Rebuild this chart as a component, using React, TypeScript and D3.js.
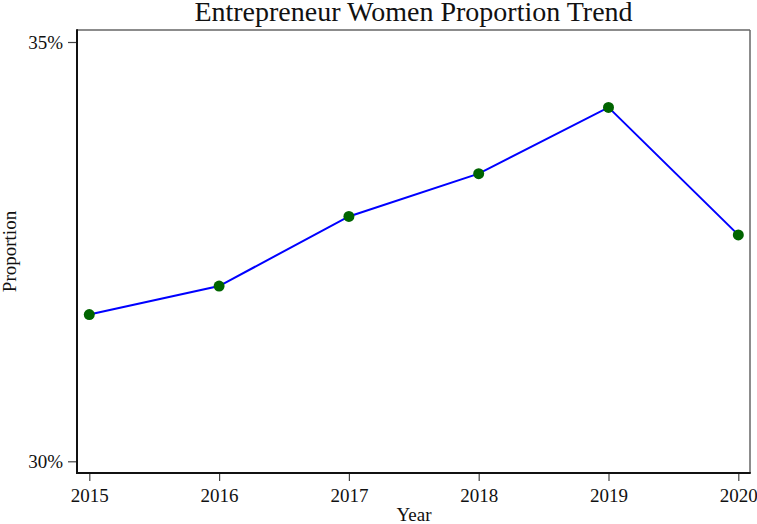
import React, { useRef, useEffect } from 'react';
import * as d3 from 'd3';

const years = [2015, 2016, 2017, 2018, 2019, 2020];
const proportion = [31.75, 32.09, 32.92, 33.43, 34.22, 32.70];
const yTicks = [30, 35];

const W = 757;
const H = 524;

const draw = (svgRef: React.RefObject<SVGSVGElement | null>) => {
  const svg = d3.select(svgRef.current);
  svg.selectAll('*').remove();

  const frame = { left: 77, right: 750, top: 30, bottom: 473 };
  const font = '"Liberation Serif", "Times New Roman", serif';

  const x = d3.scaleLinear().domain([2015, 2020]).range([89.3, 738.3]);
  const y = d3.scaleLinear().domain([30, 35]).range([461.3, 42]);

  // frame
  svg.append('line')
    .attr('x1', frame.left).attr('x2', frame.right)
    .attr('y1', frame.top).attr('y2', frame.top)
    .attr('stroke', '#666').attr('stroke-width', 1.5);
  svg.append('line')
    .attr('x1', frame.right).attr('x2', frame.right)
    .attr('y1', frame.top).attr('y2', frame.bottom)
    .attr('stroke', '#666').attr('stroke-width', 1.5);

  // x axis
  const xAxis = d3.axisBottom(x)
    .tickValues(years)
    .tickFormat(d3.format('d'))
    .tickSize(8)
    .tickPadding(8)
    .tickSizeOuter(0);
  const gx = svg.append('g')
    .attr('transform', `translate(0,${frame.bottom})`)
    .call(xAxis);
  gx.select('.domain').remove();
  gx.selectAll('.tick line').attr('stroke', '#444').attr('stroke-width', 1.2);
  gx.selectAll('.tick text').attr('font-family', font).attr('font-size', 19).attr('fill', '#111');

  // y axis
  const yAxis = d3.axisLeft(y)
    .tickValues(yTicks)
    .tickFormat(d => `${d}%`)
    .tickSize(9)
    .tickPadding(5)
    .tickSizeOuter(0);
  const gy = svg.append('g')
    .attr('transform', `translate(${frame.left},0)`)
    .call(yAxis);
  gy.select('.domain').remove();
  gy.selectAll('.tick line').attr('stroke', '#444').attr('stroke-width', 1.2);
  gy.selectAll('.tick text').attr('font-family', font).attr('font-size', 19).attr('fill', '#111');

  svg.append('line')
    .attr('x1', frame.left).attr('x2', frame.left)
    .attr('y1', frame.top - 0.75).attr('y2', frame.bottom + 1)
    .attr('stroke', '#111').attr('stroke-width', 2);
  svg.append('line')
    .attr('x1', frame.left - 1).attr('x2', frame.right + 0.75)
    .attr('y1', frame.bottom).attr('y2', frame.bottom)
    .attr('stroke', '#111').attr('stroke-width', 2);

  // line
  const pts = years.map((yr, i) => [yr, proportion[i]] as [number, number]);
  svg.append('path')
    .datum(pts)
    .attr('fill', 'none')
    .attr('stroke', '#0000ff')
    .attr('stroke-width', 2)
    .attr('d', d3.line<[number, number]>()
      .x(d => x(d[0]))
      .y(d => y(d[1])));

  svg.selectAll('circle.pt')
    .data(pts)
    .enter().append('circle')
    .attr('class', 'pt')
    .attr('cx', d => x(d[0]))
    .attr('cy', d => y(d[1]))
    .attr('r', 5.5)
    .attr('fill', '#006400');

  // titles
  svg.append('text')
    .attr('x', 413.5)
    .attr('y', 21)
    .attr('text-anchor', 'middle')
    .attr('font-family', font)
    .attr('font-size', 28)
    .attr('fill', '#111')
    .text('Entrepreneur Women Proportion Trend');

  svg.append('text')
    .attr('x', 414)
    .attr('y', 521)
    .attr('text-anchor', 'middle')
    .attr('font-family', font)
    .attr('font-size', 19)
    .attr('fill', '#111')
    .text('Year');

  svg.append('text')
    .attr('transform', `translate(16,${(frame.top + frame.bottom) / 2}) rotate(-90)`)
    .attr('text-anchor', 'middle')
    .attr('font-family', font)
    .attr('font-size', 19)
    .attr('fill', '#111')
    .text('Proportion');
};

export default function App() {
  const svgRef = useRef<SVGSVGElement>(null);

  useEffect(() => {
    draw(svgRef);
  }, []);

  return (
    <svg
      ref={svgRef}
      width={W}
      height={H}
      style={{ position: 'absolute', left: 0, top: 0, background: '#fff' }}
    />
  );
}
